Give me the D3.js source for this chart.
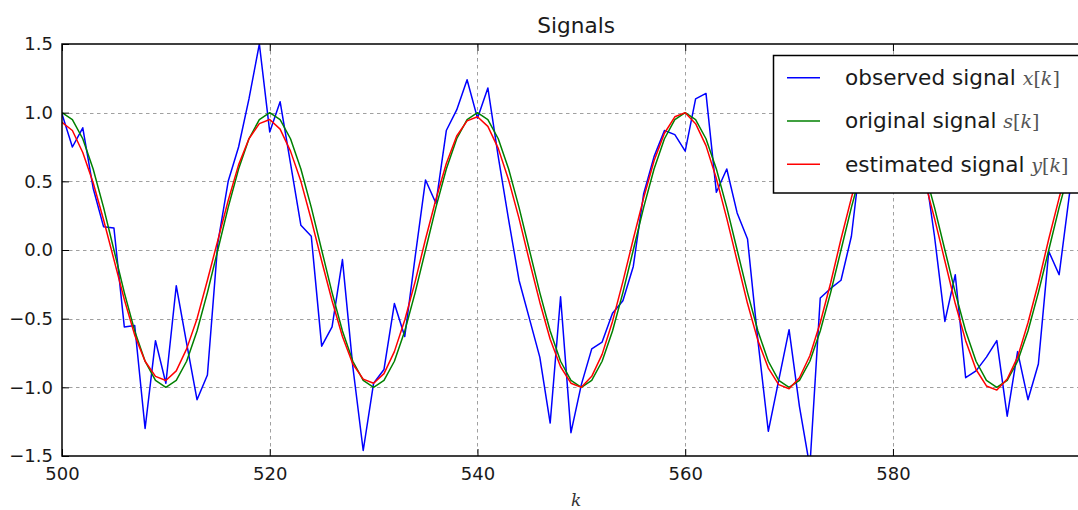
<!DOCTYPE html>
<html>
<head>
<meta charset="utf-8">
<title>Signals</title>
<script src="https://cdn.jsdelivr.net/npm/d3@7"></script>
<style>
    body { margin: 0; background: #fff; }
    svg { display: block; font-family: "DejaVu Sans", sans-serif; }
</style>
</head>
<body>
<div id="chart"></div>
<script>
// first sample index, one value per k after that
const startK = 500;

// x[k]: noisy observation
const observed = [
    0.99, 0.75, 0.89, 0.45, 0.17, 0.16, -0.56, -0.55, -1.30, -0.66,
    -0.97, -0.26, -0.68, -1.09, -0.91, 0.05, 0.50, 0.75, 1.10, 1.50,
    0.86, 1.08, 0.63, 0.18, 0.10, -0.70, -0.56, -0.07, -0.85, -1.46,
    -0.97, -0.87, -0.39, -0.63, -0.05, 0.51, 0.34, 0.87, 1.02, 1.24,
    0.96, 1.18, 0.68, 0.22, -0.22, -0.50, -0.78, -1.26, -0.34, -1.33,
    -0.98, -0.72, -0.67, -0.46, -0.37, -0.12, 0.41, 0.68, 0.87, 0.84,
    0.72, 1.10, 1.14, 0.42, 0.59, 0.27, 0.08, -0.66, -1.32, -0.95,
    -0.58, -1.14, -1.58, -0.35, -0.28, -0.22, 0.10, 0.74, 0.95, 1.10,
    0.90, 1.20, 0.85, 0.63, 0.10, -0.52, -0.18, -0.93, -0.88, -0.78,
    -0.66, -1.21, -0.74, -1.09, -0.83, -0.01, -0.18, 0.41, 0.95, 1.10
];

// s[k]: clean signal
const original = [
    1.00, 0.95, 0.81, 0.59, 0.31, 0.00, -0.31, -0.59, -0.81, -0.95,
    -1.00, -0.95, -0.81, -0.59, -0.31, 0.00, 0.31, 0.59, 0.81, 0.95,
    1.00, 0.95, 0.81, 0.59, 0.31, 0.00, -0.31, -0.59, -0.81, -0.95,
    -1.00, -0.95, -0.81, -0.59, -0.31, 0.00, 0.31, 0.59, 0.81, 0.95,
    1.00, 0.95, 0.81, 0.59, 0.31, 0.00, -0.31, -0.59, -0.81, -0.95,
    -1.00, -0.95, -0.81, -0.59, -0.31, 0.00, 0.31, 0.59, 0.81, 0.95,
    1.00, 0.95, 0.81, 0.59, 0.31, 0.00, -0.31, -0.59, -0.81, -0.95,
    -1.00, -0.95, -0.81, -0.59, -0.31, 0.00, 0.31, 0.59, 0.81, 0.95,
    1.00, 0.95, 0.81, 0.59, 0.31, 0.00, -0.31, -0.59, -0.81, -0.95,
    -1.00, -0.95, -0.81, -0.59, -0.31, 0.00, 0.31, 0.59, 0.81, 0.95
];

// y[k]: filter output
const estimated = [
    0.93, 0.87, 0.71, 0.49, 0.22, -0.07, -0.36, -0.62, -0.81, -0.92,
    -0.95, -0.88, -0.72, -0.50, -0.22, 0.07, 0.36, 0.62, 0.81, 0.92,
    0.95, 0.88, 0.72, 0.50, 0.22, -0.08, -0.37, -0.63, -0.83, -0.94,
    -0.97, -0.90, -0.74, -0.51, -0.23, 0.08, 0.37, 0.63, 0.83, 0.94,
    0.97, 0.90, 0.74, 0.51, 0.23, -0.08, -0.38, -0.65, -0.85, -0.97,
    -1.00, -0.92, -0.76, -0.52, -0.23, 0.08, 0.38, 0.65, 0.85, 0.97,
    1.00, 0.92, 0.76, 0.52, 0.23, -0.08, -0.39, -0.66, -0.86, -0.98,
    -1.01, -0.93, -0.77, -0.53, -0.24, 0.08, 0.38, 0.65, 0.85, 0.97,
    1.00, 0.92, 0.76, 0.52, 0.23, -0.08, -0.39, -0.66, -0.87, -0.99,
    -1.02, -0.94, -0.78, -0.53, -0.24, 0.08, 0.38, 0.65, 0.85, 0.97
];

const xTicks = [500, 520, 540, 560, 580];
const yTicks = [-1.5, -1.0, -0.5, 0.0, 0.5, 1.0, 1.5];

const seriesInfo = [
    { name: 'observed signal ', sym: 'x', values: observed, color: '#0000ff' },
    { name: 'original signal ', sym: 's', values: original, color: '#008000' },
    { name: 'estimated signal ', sym: 'y', values: estimated, color: '#ff0000' }
];

const width = 1078;
const height = 510;
const plot = { left: 62, top: 44, right: 1090.3, bottom: 456 };

const svg = d3.select('#chart')
    .append('svg')
    .attr('width', width)
    .attr('height', height);

const x = d3.scaleLinear()
    .domain([startK, startK + observed.length - 1])
    .range([plot.left, plot.right]);

const y = d3.scaleLinear()
    .domain([-1.5, 1.5])
    .range([plot.bottom, plot.top]);

svg.append('defs').append('clipPath')
    .attr('id', 'plot-clip')
    .append('rect')
    .attr('x', plot.left)
    .attr('y', plot.top)
    .attr('width', plot.right - plot.left)
    .attr('height', plot.bottom - plot.top);

// Grid lines
const grid = svg.append('g')
    .attr('stroke', '#a0a0a0')
    .attr('stroke-width', 1)
    .attr('stroke-dasharray', '3.5,3.5');

grid.selectAll('line.gx')
    .data(xTicks.slice(1))
    .join('line')
    .attr('x1', d => Math.round(x(d)) + 0.5)
    .attr('x2', d => Math.round(x(d)) + 0.5)
    .attr('y1', plot.top)
    .attr('y2', plot.bottom);

grid.selectAll('line.gy')
    .data(yTicks.slice(1, -1))
    .join('line')
    .attr('x1', plot.left)
    .attr('x2', plot.right)
    .attr('y1', d => Math.round(y(d)) + 0.5)
    .attr('y2', d => Math.round(y(d)) + 0.5);

// Signal lines
const line = d3.line()
    .x((d, i) => x(startK + i))
    .y(d => y(d));

const lines = svg.append('g').attr('clip-path', 'url(#plot-clip)');
seriesInfo.forEach(s => {
    lines.append('path')
        .datum(s.values)
        .attr('fill', 'none')
        .attr('stroke', s.color)
        .attr('stroke-width', 1.5)
        .attr('stroke-linejoin', 'round')
        .attr('d', line);
});

// Axes: ticks point inward on all four sides
const tickLen = 7;
const bottomAxis = d3.axisBottom(x).tickValues(xTicks).tickSize(-tickLen).tickPadding(11).tickFormat(d3.format('d'));
const topAxis = d3.axisTop(x).tickValues(xTicks).tickSize(-tickLen).tickFormat('');
const leftAxis = d3.axisLeft(y).tickValues(yTicks).tickSize(-tickLen).tickPadding(9)
    .tickFormat(d => d3.format('.1f')(d).replace('-', '\u2212'));
const rightAxis = d3.axisRight(y).tickValues(yTicks).tickSize(-tickLen).tickFormat('');

function styleAxis(g) {
    g.select('.domain').remove();
    g.selectAll('.tick line').attr('stroke', '#000').attr('stroke-width', 1);
    g.selectAll('.tick text')
        .attr('fill', '#1a1a1a')
        .style('font-family', '"DejaVu Sans", sans-serif')
        .style('font-size', '18px');
}

svg.append('g').attr('transform', `translate(0,${plot.bottom})`).call(bottomAxis).call(styleAxis);
svg.append('g').attr('transform', `translate(0,${plot.top})`).call(topAxis).call(styleAxis);
svg.append('g').attr('transform', `translate(${plot.left},0)`).call(leftAxis).call(styleAxis);
svg.append('g').attr('transform', `translate(${plot.right},0)`).call(rightAxis).call(styleAxis);

// Plot frame
svg.append('rect')
    .attr('x', plot.left)
    .attr('y', plot.top)
    .attr('width', plot.right - plot.left)
    .attr('height', plot.bottom - plot.top)
    .attr('fill', 'none')
    .attr('stroke', '#000')
    .attr('stroke-width', 1.5);

const midX = (plot.left + plot.right) / 2;

// Title and axis label
svg.append('text')
    .attr('x', midX)
    .attr('y', 33)
    .attr('text-anchor', 'middle')
    .attr('fill', '#1a1a1a')
    .style('font-size', '21.6px')
    .text('Signals');

svg.append('text')
    .attr('x', midX)
    .attr('y', 506)
    .attr('text-anchor', 'middle')
    .attr('fill', '#333')
    .style('font-family', '"DejaVu Serif", serif')
    .style('font-style', 'italic')
    .style('font-size', '17px')
    .text('k');

/**
 * Legend box in the upper right corner.
 */
function drawLegend() {
    const box = { x: 773.5, y: 55.5, w: 306, h: 137.5 };
    const legend = svg.append('g');

    legend.append('rect')
        .attr('x', box.x)
        .attr('y', box.y)
        .attr('width', box.w)
        .attr('height', box.h)
        .attr('fill', '#fff')
        .attr('stroke', '#000')
        .attr('stroke-width', 1.5);

    const rowY = [77.7, 121, 164.3];
    seriesInfo.forEach((s, i) => {
        legend.append('line')
            .attr('x1', 787)
            .attr('x2', 820)
            .attr('y1', rowY[i])
            .attr('y2', rowY[i])
            .attr('stroke', s.color)
            .attr('stroke-width', 1.5);

        const label = legend.append('text')
            .attr('x', 845)
            .attr('y', rowY[i] + 7.3)
            .attr('fill', '#1a1a1a')
            .style('font-size', '21.6px');
        label.append('tspan').text(s.name);

        // math part of the label, e.g. x[k]
        const math = [[s.sym, true], ['[', false], ['k', true], [']', false]];
        math.forEach(([t, italic]) => {
            label.append('tspan')
                .attr('fill', '#555')
                .style('font-family', '"DejaVu Serif", serif')
                .style('font-style', italic ? 'italic' : 'normal')
                .style('font-size', '19px')
                .text(t);
        });
    });
}

drawLegend();
</script>
</body>
</html>
